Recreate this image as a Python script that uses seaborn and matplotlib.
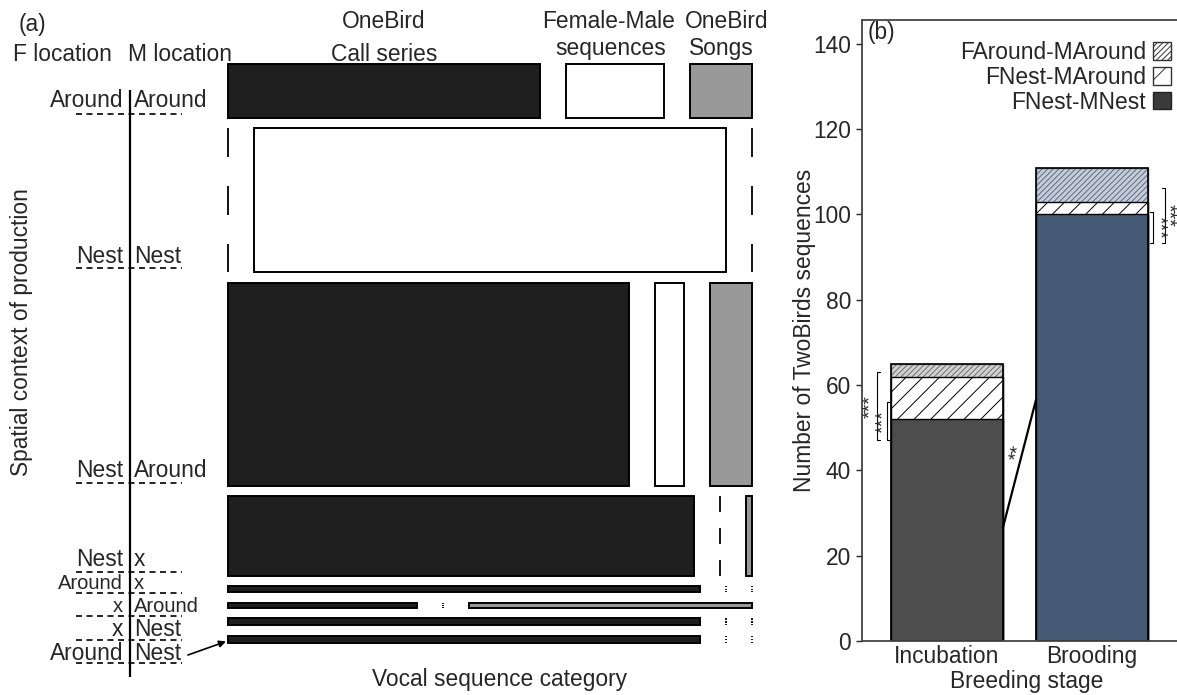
import matplotlib
matplotlib.use('Agg')
import matplotlib.pyplot as plt
import numpy as np
import pandas as pd
import seaborn as sns
from matplotlib.patches import Rectangle, Patch

# ---- data, panel (a): vocal sequences by spatial context (mosaic) ----
f_loc = ['Around', 'Nest', 'Nest', 'Nest', 'Around', 'x', 'x', 'Around']
m_loc = ['Around', 'Nest', 'Around', 'x', 'x', 'Around', 'Nest', 'Nest']
seq_cats = ['OneBird\nCall series', 'Female-Male\nsequences', 'OneBird\nSongs']
call_series = [35, 0, 170, 77, 6, 2, 7, 7]
female_male = [11, 142, 12, 0, 0, 0, 0, 0]
songs = [7, 0, 18, 1, 0, 3, 0, 0]

# ---- data, panel (b): TwoBirds sequences per breeding stage ----
stages = ['Incubation', 'Brooding']
fnest_mnest = [52, 100]
fnest_maround = [10, 3]
faround_maround = [3, 8]

sns.set_style('ticks')
plt.rcParams['font.family'] = ['Liberation Sans', 'DejaVu Sans']
plt.rcParams['hatch.linewidth'] = 0.7
FS = 16.4

fig = plt.figure(figsize=(11.77, 6.95), dpi=100)

# ======================= panel (a) =======================
# axes in pixel units so the layout is easy to place
ax_a = fig.add_axes([0, 0, 780 / 1177, 1])
ax_a.set_xlim(0, 780)
ax_a.set_ylim(695, 0)
ax_a.axis('off')

counts = np.array([call_series, female_male, songs]).T
row_tot = counts.sum(axis=1)
x0, x1, y0, y1 = 228, 752, 64, 643
gx, gy = 26, 10.5
avail_w = (x1 - x0) - gx * (counts.shape[1] - 1)
avail_h = (y1 - y0) - gy * (len(row_tot) - 1)
fills = ['#1f1f1f', 'white', '#999999']

y = y0
header_x = []
row_mid = []
for i, row in enumerate(counts):
    h = row_tot[i] / row_tot.sum() * avail_h
    x = x0
    for j, n in enumerate(row):
        w = n / row_tot[i] * avail_w
        if n > 0:
            ax_a.add_patch(Rectangle((x, y), w, h, facecolor=fills[j],
                                     edgecolor='black', linewidth=1.4))
        else:
            # empty cell -> broken line
            ax_a.vlines([x, x, x], [y, y + 0.4 * h, y + 0.8 * h],
                        [y + 0.2 * h, y + 0.6 * h, y + h],
                        color='black', linewidth=1.3)
        if i == 0:
            header_x.append(x + w / 2)
        x += w + gx
    row_mid.append(y + h / 2)
    y += h + gy

# column headers (small nudges so neighbouring headers do not touch)
dx1 = [0, -6, 6]
dx2 = [0, -4, 1]
base2 = [61, 55, 55]
for cx, lab, a, b, yb in zip(header_x, seq_cats, dx1, dx2, base2):
    l1, l2 = lab.split('\n')
    ax_a.text(cx + a, 28.5, l1, ha='center', va='baseline', fontsize=FS)
    ax_a.text(cx + b, yb, l2, ha='center', va='baseline', fontsize=FS)

ax_a.text(19, 30.5, '(a)', ha='left', va='baseline', fontsize=FS)
ax_a.text(13, 61, 'F location', ha='left', va='baseline', fontsize=FS)
ax_a.text(128, 61, 'M location', ha='left', va='baseline', fontsize=FS)

# row labels (left column layout)
label_y = [107, 263, 477, 566, 589, 612, 636, 660]
dash_y = [114, 268, 483, 572, 593, 616, 640, 663]
label_fs = [FS, FS, FS, FS, 14.5, 14.5, FS, FS]
for fl, ml, ly, fs in zip(f_loc, m_loc, label_y, label_fs):
    ax_a.text(123, ly, fl, ha='right', va='baseline', fontsize=fs)
    ax_a.text(134, ly, ml, ha='left', va='baseline', fontsize=fs)
ax_a.hlines(dash_y, 76, 182, color='black', linewidth=1.2,
            linestyles=(0, (3.6, 2.7)))
ax_a.vlines(130, 90, 677, color='black', linewidth=1.6)
ax_a.annotate('', xy=(x0 - 2, row_mid[-1] + 2), xytext=(188, 655),
              arrowprops=dict(arrowstyle='-|>', color='black', lw=1.2,
                              mutation_scale=10, shrinkA=0, shrinkB=0))

ax_a.text(22, 332, 'Spatial context of production', rotation=90,
          ha='center', va='center', fontsize=FS)
ax_a.text(500, 686, 'Vocal sequence category', ha='center', va='baseline',
          fontsize=FS)

# ======================= panel (b) =======================
ax_b = fig.add_axes([862 / 1177, 54 / 695, 315 / 1177, 621 / 695])
df_b = pd.DataFrame({'stage': stages, 'nn': fnest_mnest,
                     'na': fnest_maround, 'aa': faround_maround})
df_b['mid'] = df_b['nn'] + df_b['na']
df_b['top'] = df_b['mid'] + df_b['aa']

bw = 0.77
for col in ['top', 'mid', 'nn']:
    sns.barplot(data=df_b, x='stage', y=col, ax=ax_b, width=bw,
                color='white', saturation=1, errorbar=None)

top_fc = ['#d2d2d2', '#c6cdd9']
top_hc = ['#6e6e6e', '#5a6a82']
bot_fc = ['#4d4d4d', '#475a75']
for k, p in enumerate(ax_b.patches):
    layer, idx = divmod(k, 2)
    if layer == 0:
        p.set_facecolor(top_fc[idx])
        p.set_edgecolor(top_hc[idx])
        p.set_hatch('//////')
    elif layer == 1:
        p.set_facecolor('white')
        p.set_edgecolor('black')
        p.set_hatch('//')
    else:
        p.set_facecolor(bot_fc[idx])
        p.set_edgecolor('black')
    p.set_linewidth(1.0)

# outline of the stacked bars
sns.barplot(data=df_b, x='stage', y='top', ax=ax_b, width=bw, fill=False,
            color='black', linewidth=1.2, errorbar=None)

# significance annotations
def bracket(x, lo, hi, t):
    ax_b.plot([x + t, x, x, x + t], [lo, lo, hi, hi], color='black', lw=0.8)

def px(xp):
    # horizontal pixel position -> category units of panel (b)
    return (xp - 947) / 145

AFS = 14
bracket(-0.483, 47.1, 63.1, 0.02)
bracket(-0.414, 47.1, 56.0, 0.02)
ax_b.text(px(862), 55, '***', rotation=90, ha='left', va='center', fontsize=AFS)
ax_b.text(px(875), 51.5, '***', rotation=90, ha='left', va='center', fontsize=AFS)
bracket(1.421, 93.3, 100.6, -0.02)
bracket(1.503, 93.3, 106.2, -0.02)
ax_b.text(px(1167), 97, '***', rotation=-90, ha='right', va='center', fontsize=AFS)
ax_b.text(px(1176.5), 99.8, '***', rotation=-90, ha='right', va='center', fontsize=AFS)
ax_b.plot([bw / 2, 1 - bw / 2], [26.5, 56.7], color='black', lw=1.6)
ax_b.text(0.485, 44, '**', rotation=74, ha='center', va='center', fontsize=AFS)

ax_b.set_xlim(-0.586, 1.586)
ax_b.set_ylim(0, 145.6)
ax_b.set_yticks(np.arange(0, 141, 20))
ax_b.tick_params(axis='y', length=4.3, width=1, pad=3.5, labelsize=FS)
ax_b.tick_params(axis='x', length=0, pad=3, labelsize=FS)
ax_b.set_ylabel('Number of TwoBirds sequences', fontsize=FS)
ax_b.yaxis.set_label_coords(-0.146, 0.5)
ax_b.set_xlabel('Breeding stage', fontsize=FS)
ax_b.xaxis.set_label_coords(0.524, -0.047)
for s in ['left', 'top', 'bottom']:
    ax_b.spines[s].set_visible(True)
    ax_b.spines[s].set_color('#444444')
    ax_b.spines[s].set_linewidth(1.3)
ax_b.spines['right'].set_visible(False)

handles = [Patch(facecolor='white', edgecolor='#333333', hatch='//////'),
           Patch(facecolor='white', edgecolor='#333333', hatch='/'),
           Patch(facecolor='#3a3a3a', edgecolor='#222222')]
labels = ['FAround-MAround', 'FNest-MAround', 'FNest-MNest']
ax_b.legend(handles, labels, loc='upper right',
            bbox_to_anchor=(1171 / 1177, 1 - 41 / 695),
            bbox_transform=fig.transFigure, frameon=False, markerfirst=False,
            handlelength=0.8, handleheight=0.8, handletextpad=0.3,
            labelspacing=0.08, borderaxespad=0, borderpad=0, fontsize=FS)

fig.text(868 / 1177, 1 - 39 / 695, '(b)', ha='left', va='baseline', fontsize=FS)

fig.savefig('out.png', dpi=100)
